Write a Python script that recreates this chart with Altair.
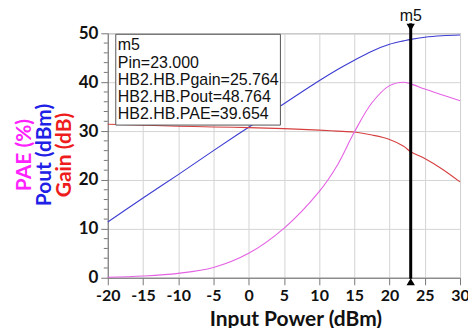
import altair as alt
import pandas as pd

pin = [-20, -15, -10, -5, 0, 5, 10, 12.5, 15, 17.5, 20, 22, 23, 25, 27.5, 30]
pout = [11.4, 16.3, 21.1, 26.0, 30.8, 35.6, 40.3, 42.5, 44.5, 46.35, 47.75, 48.45, 48.764, 49.2, 49.5, 49.65]
gain = [31.4, 31.2, 31.0, 30.85, 30.7, 30.5, 30.2, 30.0, 29.8, 29.2, 28.3, 26.9, 25.764, 24.4, 22.2, 19.6]
pae = [0.1, 0.35, 0.9, 2.1, 5.0, 10.1, 17.6, 22.8, 29.8, 35.8, 39.3, 40.0, 39.654, 38.6, 37.4, 36.2]

series_names = ["Pout", "Gain", "PAE"]
series_colors = ["#3c3cd2", "#d64040", "#e462e4"]

marker_x = [23]
minor_y = [v for v in range(0, 51, 2) if v % 10 != 0]
x_ticks = list(range(-20, 31, 5))
y_ticks = list(range(0, 51, 10))

box_lines = ["m5", "Pin=23.000", "HB2.HB.Pgain=25.764", "HB2.HB.Pout=48.764", "HB2.HB.PAE=39.654"]

ytitles = ["PAE (%)", "Pout (dBm)", "Gain (dB)"]
ytitle_colors = ["#ff22ff", "#2020e6", "#ee1c1c"]

rows = []
for name, vals in zip(series_names, [pout, gain, pae]):
    for p, v in zip(pin, vals):
        rows.append({"pin": p, "val": v, "series": name})
df = pd.DataFrame(rows)

W, H = 353, 245
FONT = "Lato"

xscale = alt.Scale(domain=[-20, 30], nice=False, zero=False)
yscale = alt.Scale(domain=[0, 50], nice=False)

xaxis = alt.Axis(values=x_ticks, grid=True, gridColor="#d4d4d4", tickSize=7,
                 tickColor="#777777", domainColor="#777777", labelFont=FONT,
                 labelFontWeight="bold", labelFontSize=16, labelColor="#111111",
                 labelPadding=3, labelOverlap=False, labelExpr="'' + datum.value",
                 title="Input Power (dBm)", titleFont=FONT,
                 titleFontSize=21, titleFontWeight="bold", titleColor="#111111",
                 titlePadding=5, titleX=188, labelFlush=False)
yaxis = alt.Axis(values=y_ticks, grid=True, gridColor="#d4d4d4", tickSize=7,
                 tickColor="#777777", domainColor="#777777", labelFont=FONT,
                 labelFontWeight="bold", labelFontSize=17, labelColor="#111111",
                 labelPadding=3, title="", labelFlush=False, labelOverlap=False)

lines = alt.Chart(df).mark_line(strokeWidth=1.1, interpolate="catmull-rom").encode(
    x=alt.X("pin:Q", scale=xscale, axis=xaxis, title="Input Power (dBm)"),
    y=alt.Y("val:Q", scale=yscale, axis=yaxis, title=""),
    color=alt.Color("series:N", scale=alt.Scale(domain=series_names, range=series_colors), legend=None),
    detail="series:N",
)

minor = alt.Chart(pd.DataFrame({"y": minor_y})).mark_rule(color="#777777", strokeWidth=1).encode(
    x=alt.value(-4), x2=alt.value(0), y=alt.Y("y:Q", scale=yscale, axis=yaxis, title="")
)

mdf = pd.DataFrame({"x": marker_x})
mx = alt.X("x:Q", scale=xscale, axis=xaxis, title="Input Power (dBm)")
marker = alt.Chart(mdf).mark_rule(color="black", strokeWidth=3).encode(
    x=mx, y=alt.value(-10), y2=alt.value(246)
)
tri_top = alt.Chart(mdf).mark_point(shape="triangle-down", filled=True, color="black", size=70, opacity=1).encode(
    x=mx, y=alt.value(-6)
)
tri_bot = alt.Chart(mdf).mark_point(shape="triangle-up", filled=True, color="black", size=70, opacity=1).encode(
    x=mx, y=alt.value(249)
)
mlabel = alt.Chart(mdf).mark_text(text="m5", font="Liberation Sans", fontSize=16, color="#111111").encode(
    x=mx, y=alt.value(-17)
)

box = alt.Chart(pd.DataFrame({"a": [0]})).mark_rect(fill="white", stroke="#555555", strokeWidth=1).encode(
    x=alt.value(8), x2=alt.value(173), y=alt.value(1), y2=alt.value(92)
)

box_layers = []
for i, t in enumerate(box_lines):
    box_layers.append(
        alt.Chart(pd.DataFrame({"t": [t]})).mark_text(
            align="left", baseline="middle", font="Liberation Sans", fontSize=16, color="#111111"
        ).encode(x=alt.value(10), y=alt.value(12 + i * 17.3), text="t:N")
    )

ytext_layers = []
for t, c, xo in zip(ytitles, ytitle_colors, [-83, -63, -43]):
    ytext_layers.append(
        alt.Chart(pd.DataFrame({"t": [t]})).mark_text(
            angle=270, font=FONT, fontSize=21, fontWeight="bold", align="center",
            baseline="middle", color=c
        ).encode(x=alt.value(xo), y=alt.value(122), text="t:N")
    )

chart = alt.layer(lines, minor, box, *box_layers, marker, tri_top, tri_bot, mlabel, *ytext_layers).properties(
    width=W, height=H,
    autosize=alt.AutoSizeParams(type="none"),
    padding={"left": 100, "top": 25, "right": 8, "bottom": 50},
).configure_view(stroke="#999999", strokeWidth=1)

chart.save("out.html", embed_options={"renderer": "svg", "actions": False})
